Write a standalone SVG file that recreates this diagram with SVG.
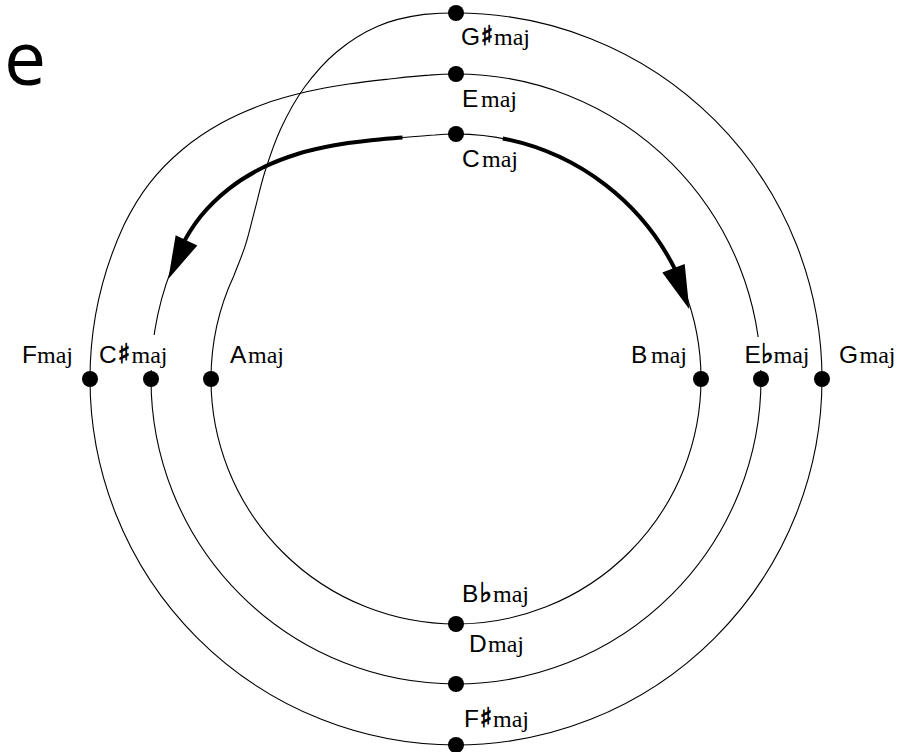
<svg xmlns="http://www.w3.org/2000/svg" width="908" height="752" viewBox="0 0 908 752">
<style>
.c{fill:none;stroke:#000;stroke-width:1.1}
.t{fill:none;stroke:#000;stroke-width:4}
.h{fill:#000;stroke:none}
.d{fill:#000}
text{fill:#000}
.L{font-family:"Liberation Sans",Arial,sans-serif;font-size:24.5px}
.m{font-family:"Liberation Serif","Times New Roman",serif;font-size:24px}
.a{font-family:"DejaVu Sans",sans-serif;font-size:27px;fill:#000;stroke:#000;stroke-width:0.8}
.bg{fill:#fff}
</style>
<rect width="908" height="752" fill="#fff"/>
<text x="4" y="85" font-family="'Open Sans',sans-serif" font-size="75">e</text>
<g id="connectors">
<path class="c" d="M 456 134 A 245 245 0 0 1 701 379"/>
<path class="c" d="M 701 379 A 245 245 0 0 1 456 624"/>
<path class="c" d="M 456 624 A 245 245 0 0 1 211 379"/>
<path class="c" d="M 211 379 A 245 245 0 0 1 233.95 275.46 C 237.81 265.39 242.02 255.78 245.49 244.89 C 248.96 234.00 251.47 222.49 254.76 210.14 C 258.05 197.79 260.88 184.36 265.21 170.79 C 269.55 157.23 274.26 142.63 280.77 128.75 C 287.28 114.87 294.92 100.37 304.27 87.53 C 313.62 74.69 324.62 61.94 336.87 51.71 C 349.12 41.48 363.24 32.39 377.78 26.17 C 392.32 19.95 408.40 16.53 424.10 14.39 A 366 366 0 0 1 456 13"/>
<path class="c" d="M 456 13 A 366 366 0 0 1 822 379"/>
<path class="c" d="M 822 379 A 366 366 0 0 1 456 745"/>
<path class="c" d="M 456 745 A 366 366 0 0 1 90 379"/>
<path class="c" d="M 90 379 A 366 366 0 0 1 124.29 224.32 C 131.34 210.09 139.57 196.06 149.26 183.58 C 158.95 171.10 170.42 159.55 182.45 149.46 C 194.48 139.37 207.92 130.57 221.44 123.02 C 234.96 115.47 249.39 109.39 263.56 104.18 C 277.74 98.98 292.31 95.15 306.49 91.79 C 320.67 88.43 334.81 86.17 348.64 84.03 C 362.47 81.89 376.03 80.46 389.49 78.98 C 402.95 77.50 416.12 75.94 429.42 75.16 A 305 305 0 0 1 456 74"/>
<path class="c" d="M 456 74 A 305 305 0 0 1 761 379"/>
<path class="c" d="M 761 379 A 305 305 0 0 1 456 684"/>
<path class="c" d="M 456 684 A 305 305 0 0 1 151 379"/>
<path class="c" d="M 151 379 A 305 305 0 0 1 179.58 250.10 C 185.51 238.28 192.46 226.61 200.71 216.36 C 208.96 206.11 218.81 196.71 229.10 188.61 C 239.39 180.51 250.91 173.58 262.44 167.77 C 273.97 161.96 286.29 157.48 298.27 153.73 C 310.25 149.98 322.51 147.47 334.33 145.27 C 346.15 143.07 357.84 141.80 369.20 140.51 C 380.56 139.22 391.56 138.49 402.47 137.56 C 413.38 136.63 423.95 135.49 434.65 134.93 A 245 245 0 0 1 456 134"/>
</g>
<g id="arrows">
<path class="t" d="M 502.75 138.5 A 245 245 0 0 1 676.2 271.6"/>
<polygon class="h" points="662.3,272.6 684.7,264.0 689.3,309.3"/>
<path class="t" d="M 402.47 137.56 C 391.56 138.49 380.56 139.22 369.20 140.51 C 357.84 141.80 346.15 143.07 334.33 145.27 C 322.51 147.47 310.25 149.98 298.27 153.73 C 286.29 157.48 273.97 161.96 262.44 167.77 C 250.91 173.58 239.39 180.51 229.10 188.61 C 218.81 196.71 208.96 206.11 200.71 216.36 C 192.46 226.61 185.51 238.28 179.58 250.10"/>
<polygon class="h" points="175.65,235.2 197.35,245.4 168.3,279"/>
</g>
<g id="Gsharp"><circle class="d" cx="456" cy="13" r="8"/><text y="45"><tspan class="L" x="461">G</tspan><tspan class="a" x="480.5">♯</tspan><tspan class="m" x="494">maj</tspan></text></g>
<g id="E"><circle class="d" cx="456" cy="74" r="8"/><text y="107"><tspan class="L" x="462">E</tspan><tspan class="m" x="481">maj</tspan></text></g>
<g id="C"><circle class="d" cx="456" cy="134" r="8"/><text y="167"><tspan class="L" x="462">C</tspan><tspan class="m" x="482">maj</tspan></text></g>
<g id="F"><circle class="d" cx="90" cy="379" r="8"/><text y="363"><tspan class="L" x="22">F</tspan><tspan class="m" x="37">maj</tspan></text></g>
<g id="Csharp"><rect class="bg" x="98" y="335" width="72" height="35"/><circle class="d" cx="151" cy="379" r="8"/><text y="363"><tspan class="L" x="99">C</tspan><tspan class="a" x="117.5">♯</tspan><tspan class="m" x="131.5">maj</tspan></text></g>
<g id="A"><circle class="d" cx="211" cy="379" r="8"/><text y="363"><tspan class="L" x="230">A</tspan><tspan class="m" x="248">maj</tspan></text></g>
<g id="B"><circle class="d" cx="701" cy="379" r="8"/><text y="363"><tspan class="L" x="631">B</tspan><tspan class="m" x="651">maj</tspan></text></g>
<g id="Eflat"><rect class="bg" x="744" y="337" width="70" height="33"/><circle class="d" cx="761" cy="379" r="8"/><text y="363"><tspan class="L" x="744.5">E</tspan><tspan class="a" x="761">♭</tspan><tspan class="m" x="773.5">maj</tspan></text></g>
<g id="G"><circle class="d" cx="822" cy="379" r="8"/><text y="363"><tspan class="L" x="839">G</tspan><tspan class="m" x="859.5">maj</tspan></text></g>
<g id="Bflat"><circle class="d" cx="456" cy="624" r="8"/><text y="602"><tspan class="L" x="462">B</tspan><tspan class="a" x="479.5">♭</tspan><tspan class="m" x="493">maj</tspan></text></g>
<g id="D"><circle class="d" cx="456" cy="684" r="8"/><text y="652"><tspan class="L" x="469">D</tspan><tspan class="m" x="488">maj</tspan></text></g>
<g id="Fsharp"><circle class="d" cx="456" cy="745" r="8"/><text y="727"><tspan class="L" x="464">F</tspan><tspan class="a" x="479.5">♯</tspan><tspan class="m" x="493">maj</tspan></text></g>
</svg>
